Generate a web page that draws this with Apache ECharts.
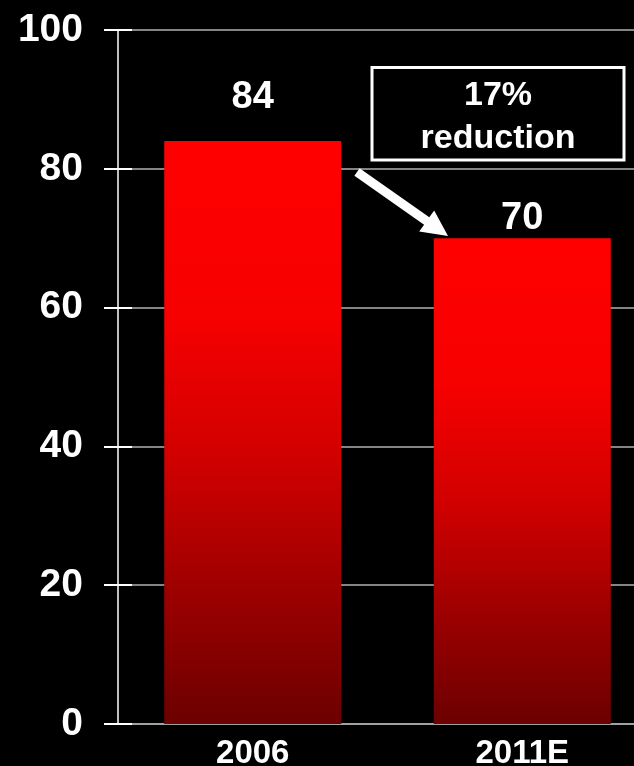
<!DOCTYPE html>
<html>
<head>
<meta charset="utf-8">
<style>
  html, body { margin: 0; padding: 0; background: #000; }
  #chart { width: 634px; height: 766px; }
</style>
<script src="https://cdn.jsdelivr.net/npm/echarts@6/dist/echarts.min.js"></script>
</head>
<body>
<div id="chart"></div>
<script>
// Years shown on the category axis
const categories = ['2006', '2011E'];
// Values per year
const values = [84, 70];
// Value axis ticks
const yTicks = [0, 20, 40, 60, 80, 100];
// Annotation text
const noteLines = ['17%', 'reduction'];

const FONT = '"Liberation Sans", Arial, Helvetica, sans-serif';

const barGradient = new echarts.graphic.LinearGradient(0, 0, 0, 1, [
  { offset: 0, color: '#ff0000' },
  { offset: 0.3, color: '#f70000' },
  { offset: 0.55, color: '#d00000' },
  { offset: 0.76, color: '#a00000' },
  { offset: 1, color: '#6c0000' }
]);

const labelDistances = [25, 1];

const chart = echarts.init(document.getElementById('chart'), null, { renderer: 'canvas' });

const yMin = yTicks[0];
const yMax = yTicks[yTicks.length - 1];
const yStep = yTicks[1] - yTicks[0];

// White arrow from the first bar toward the second
const arrowPts = [
  [354.4, 175.7], [359.6, 168.3], [429.3, 217.3], [434.2, 210.4],
  [448, 236], [419.2, 231.6], [424.1, 224.7]
];

chart.setOption({
  backgroundColor: '#000',
  animation: false,
  // plot area runs past the right edge of the canvas
  grid: {
    left: 118, width: 539, top: 30, bottom: 42,
    containLabel: false,
    outerBoundsMode: 'none'
  },
  xAxis: {
    type: 'category',
    data: categories,
    axisLine: { show: true, lineStyle: { color: '#aaaaaa', width: 1.5 } },
    axisTick: { show: false },
    axisLabel: {
      color: '#fff', fontSize: 33, fontWeight: 'bold', fontFamily: FONT, margin: 13
    }
  },
  yAxis: [
    {
      type: 'value',
      min: yMin, max: yMax, interval: yStep,
      axisLine: { show: true, lineStyle: { color: '#fff', width: 1.5 } },
      axisTick: { show: true, inside: false, length: 14, lineStyle: { color: '#fff', width: 2 } },
      splitLine: { show: true, lineStyle: { color: '#b0b0b0', width: 1.5 } },
      axisLabel: {
        color: '#fff', fontSize: 39, fontWeight: 'bold', fontFamily: FONT, margin: 35
      }
    },
    {
      type: 'value',
      position: 'left',
      min: yMin, max: yMax, interval: yStep,
      axisLine: { show: false },
      axisTick: { show: true, inside: true, length: 14, lineStyle: { color: '#fff', width: 2 } },
      splitLine: { show: false },
      axisLabel: { show: false }
    }
  ],
  series: [{
    type: 'bar',
    yAxisIndex: 0,
    barWidth: 177,
    data: values.map((v, i) => ({
      value: v,
      label: { distance: labelDistances[i] }
    })),
    itemStyle: { color: barGradient },
    label: {
      show: true,
      position: 'top',
      color: '#fff',
      fontSize: 38,
      fontWeight: 'bold',
      fontFamily: FONT
    }
  }],
  graphic: [
    {
      type: 'rect',
      shape: { x: 372, y: 67.5, width: 252, height: 92.5 },
      style: { fill: '#000', stroke: '#fff', lineWidth: 3 },
      z: 10
    },
    {
      type: 'text',
      x: 498,
      y: 117,
      style: {
        text: noteLines.join('\n'),
        fill: '#fff',
        font: 'bold 34px ' + FONT,
        lineHeight: 43,
        align: 'center',
        verticalAlign: 'middle'
      },
      z: 11
    },
    {
      type: 'polygon',
      shape: { points: arrowPts },
      style: { fill: '#fff' },
      z: 10
    }
  ]
});
</script>
</body>
</html>
